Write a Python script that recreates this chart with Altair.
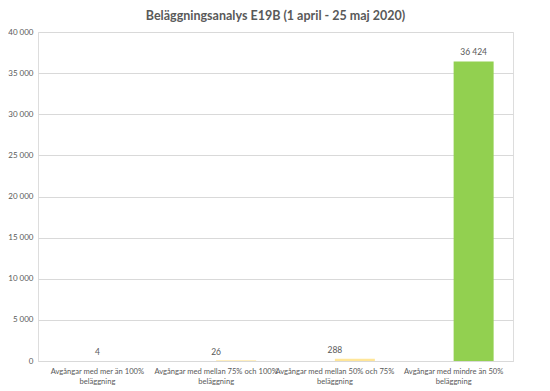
import altair as alt
import pandas as pd

categories = [
    "Avgångar med mer än 100%|beläggning",
    "Avgångar med mellan 75% och 100%|beläggning",
    "Avgångar med mellan 50% och 75%|beläggning",
    "Avgångar med mindre än 50%|beläggning",
]
values = [4, 26, 288, 36424]
colors = ["#FF0000", "#FFC000", "#FFE699", "#92D050"]

df = pd.DataFrame({"cat": categories, "val": values, "col": colors})

FONT = "Lato"
TFONT = "Lato"
GRAY = "#595959"

x = alt.X("cat:N", sort=categories, title=None,
          scale=alt.Scale(paddingInner=0, paddingOuter=0),
          axis=alt.Axis(labelExpr="split(datum.label, '|')", labelAngle=0,
                        labelFontSize=7.6, labelColor=GRAY, labelFont=FONT,
                        ticks=False, domainColor="#D9D9D9", labelPadding=6,
                        labelLineHeight=10, labelLimit=200))
y = alt.Y("val:Q", title=None,
          scale=alt.Scale(domain=[0, 40000], nice=False),
          axis=alt.Axis(values=list(range(0, 40001, 5000)), format=",d",
                        labelFontSize=8, labelColor=GRAY, labelFont=FONT,
                        ticks=False, domain=False, gridColor="#D9D9D9",
                        labelPadding=5))

base = alt.Chart(df)

bars = base.mark_bar(width=40, xOffset=20).encode(
    x=x, y=y, color=alt.Color("col:N", scale=None))

text_small = base.transform_filter("datum.val < 1000").mark_text(
    baseline="bottom", dy=-4, fontSize=8.5, color=GRAY, font=FONT).encode(
    x=x, y=y, text=alt.Text("val:Q", format=",d"))

text_big = base.transform_filter("datum.val >= 1000").mark_text(
    baseline="bottom", dy=-4, xOffset=20, fontSize=8.5, color=GRAY, font=FONT).encode(
    x=x, y=y, text=alt.Text("val:Q", format=",d"))

chart = alt.layer(bars, text_small, text_big).properties(
    width=475, height=329,
    title=alt.TitleParams("Beläggningsanalys E19B (1 april - 25 maj 2020)",
                          fontSize=12.5, font=TFONT, fontWeight="bold",
                          color=GRAY, anchor="middle", offset=6),
    autosize=alt.AutoSizeParams(type="none"),
    padding={"left": 30, "top": 24, "right": 29, "bottom": 26},
).configure_view(stroke=None).configure(
    locale={"number": {"decimal": ",", "thousands": "\u202f",
                       "grouping": [3], "currency": ["", " kr"]}}
)

chart.save("out.html", embed_options={"renderer": "svg", "actions": False})
